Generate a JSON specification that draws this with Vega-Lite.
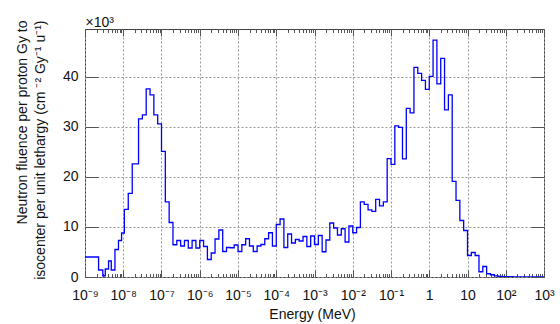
{
  "$schema": "https://vega.github.io/schema/vega-lite/v6.json",
  "width": 459,
  "height": 248,
  "autosize": {"type": "none"},
  "padding": {"left": 85, "top": 29, "right": 16, "bottom": 47},
  "background": "white",
  "data": {"values": [
    {"e": 1e-9, "v": 4000}, {"e": 2.265e-9, "v": 1400}, {"e": 2.917e-9, "v": 250}, {"e": 3.388e-9, "v": 1600},
    {"e": 4.13e-9, "v": 3200}, {"e": 4.864e-9, "v": 1400}, {"e": 6.067e-9, "v": 5500}, {"e": 7.499e-9, "v": 7300},
    {"e": 9.036e-9, "v": 8800}, {"e": 1.069e-8, "v": 13500}, {"e": 1.352e-8, "v": 16700}, {"e": 1.718e-8, "v": 22600},
    {"e": 2.512e-8, "v": 31600}, {"e": 3.162e-8, "v": 32400}, {"e": 3.981e-8, "v": 37600}, {"e": 5.012e-8, "v": 36400},
    {"e": 6.31e-8, "v": 32400}, {"e": 7.943e-8, "v": 30600},
    {"e": 1e-7, "v": 25100}, {"e": 1.259e-7, "v": 15000}, {"e": 1.585e-7, "v": 10900}, {"e": 1.995e-7, "v": 6450},
    {"e": 2.512e-7, "v": 7300}, {"e": 3.162e-7, "v": 6200}, {"e": 3.981e-7, "v": 7300}, {"e": 5.012e-7, "v": 5800},
    {"e": 6.31e-7, "v": 7300}, {"e": 7.943e-7, "v": 5800},
    {"e": 1e-6, "v": 7300}, {"e": 1.259e-6, "v": 6100}, {"e": 1.585e-6, "v": 3500}, {"e": 1.995e-6, "v": 4800},
    {"e": 2.512e-6, "v": 7600}, {"e": 3.162e-6, "v": 9400}, {"e": 3.981e-6, "v": 5100}, {"e": 5.012e-6, "v": 5900},
    {"e": 6.31e-6, "v": 5850}, {"e": 7.943e-6, "v": 6400},
    {"e": 1e-5, "v": 5100}, {"e": 1.259e-5, "v": 6450}, {"e": 1.585e-5, "v": 7650}, {"e": 1.995e-5, "v": 6200},
    {"e": 2.512e-5, "v": 5100}, {"e": 3.162e-5, "v": 6200}, {"e": 3.981e-5, "v": 6500}, {"e": 5.012e-5, "v": 7650},
    {"e": 6.31e-5, "v": 8850}, {"e": 7.943e-5, "v": 6200},
    {"e": 1e-4, "v": 10500}, {"e": 1.259e-4, "v": 11600}, {"e": 1.585e-4, "v": 5900}, {"e": 1.995e-4, "v": 8600},
    {"e": 2.512e-4, "v": 6800}, {"e": 3.162e-4, "v": 7500}, {"e": 3.981e-4, "v": 7200}, {"e": 5.012e-4, "v": 8100},
    {"e": 6.31e-4, "v": 6100}, {"e": 7.943e-4, "v": 8200},
    {"e": 1e-3, "v": 6500}, {"e": 1.259e-3, "v": 8300}, {"e": 1.585e-3, "v": 5050}, {"e": 1.995e-3, "v": 7400},
    {"e": 2.512e-3, "v": 10800}, {"e": 3.162e-3, "v": 9800}, {"e": 3.981e-3, "v": 8400}, {"e": 5.012e-3, "v": 9650},
    {"e": 6.31e-3, "v": 7000}, {"e": 7.943e-3, "v": 10200},
    {"e": 1e-2, "v": 8850}, {"e": 1.259e-2, "v": 9900}, {"e": 1.585e-2, "v": 15000}, {"e": 1.995e-2, "v": 14500},
    {"e": 2.512e-2, "v": 13400}, {"e": 3.162e-2, "v": 13100}, {"e": 3.981e-2, "v": 15500}, {"e": 5.012e-2, "v": 14200},
    {"e": 6.31e-2, "v": 15000}, {"e": 7.943e-2, "v": 23650},
    {"e": 0.1, "v": 22500}, {"e": 0.1259, "v": 30200}, {"e": 0.1585, "v": 29900}, {"e": 0.1995, "v": 23600},
    {"e": 0.2512, "v": 33700}, {"e": 0.3162, "v": 32800}, {"e": 0.3981, "v": 41900}, {"e": 0.5012, "v": 40700},
    {"e": 0.631, "v": 39300}, {"e": 0.7943, "v": 37500},
    {"e": 1, "v": 40100}, {"e": 1.259, "v": 47350}, {"e": 1.585, "v": 38600}, {"e": 1.995, "v": 43700},
    {"e": 2.512, "v": 33400}, {"e": 3.162, "v": 36400}, {"e": 3.981, "v": 19100}, {"e": 5.012, "v": 15300},
    {"e": 6.31, "v": 11300}, {"e": 7.943, "v": 9300},
    {"e": 10, "v": 4300}, {"e": 12.59, "v": 4900}, {"e": 15.85, "v": 4300}, {"e": 19.95, "v": 1050},
    {"e": 25.12, "v": 2100}, {"e": 31.62, "v": 650}, {"e": 39.81, "v": 450}, {"e": 50.12, "v": 220},
    {"e": 63.1, "v": 100}, {"e": 79.43, "v": 80},
    {"e": 100, "v": 60}, {"e": 125.9, "v": 50}, {"e": 158.5, "v": 40}, {"e": 199.5, "v": 35},
    {"e": 251.2, "v": 30}, {"e": 316.2, "v": 25}, {"e": 398.1, "v": 20}, {"e": 501.2, "v": 15},
    {"e": 631, "v": 12}, {"e": 794.3, "v": 10},
    {"e": 1000, "v": 10}
  ]},
  "layer": [
    {
      "mark": {"type": "line", "interpolate": "step-after", "color": "#0000ff", "strokeWidth": 1.3, "clip": true},
      "encoding": {
        "x": {"field": "e", "type": "quantitative",
          "scale": {"type": "log", "domain": [1e-9, 1000], "nice": false},
          "axis": {"orient": "bottom", "values": [1e-9, 1e-8, 1e-7, 1e-6, 1e-5, 1e-4, 1e-3, 1e-2, 1e-1, 1, 10, 100, 1000],
            "labelExpr": "['10⁻⁹','10⁻⁸','10⁻⁷','10⁻⁶','10⁻⁵','10⁻⁴','10⁻³','10⁻²','10⁻¹','1','10','10²','10³'][round(log(datum.value)/LN10)+9]",
            "tickSize": -7, "labelPadding": 18, "grid": true,
            "title": "Energy (MeV)", "titleX": 227, "titleY": 41, "titleAlign": "center", "titleBaseline": "alphabetic"}},
        "y": {"field": "v", "type": "quantitative",
          "scale": {"domain": [0, 49580], "nice": false, "zero": true},
          "axis": {"orient": "left", "values": [0, 10000, 20000, 30000, 40000], "labelExpr": "format(datum.value/1000, 'd')",
            "tickSize": -13, "labelPadding": 20, "grid": true,
            "title": ["Neutron fluence per proton Gy to", "isocenter per unit lethargy (cm ⁻² Gy⁻¹ u⁻¹)"],
            "titleX": -70, "titleY": -9, "titleAngle": -90, "titleAlign": "right", "titleBaseline": "top", "titleLineHeight": 18}}
      }
    },
    {
      "mark": {"type": "line", "interpolate": "step-after", "opacity": 0},
      "encoding": {
        "x": {"field": "e", "type": "quantitative",
          "axis": {"orient": "bottom", "tickCount": 150, "tickSize": -3.5, "labels": false, "grid": false, "title": null}},
        "y": {"field": "v", "type": "quantitative",
          "axis": {"orient": "right", "values": [0, 10000, 20000, 30000, 40000], "tickSize": -13, "labels": false, "grid": false, "title": null}}
      }
    },
    {
      "mark": {"type": "line", "interpolate": "step-after", "opacity": 0},
      "encoding": {
        "x": {"field": "e", "type": "quantitative",
          "axis": {"orient": "top", "values": [1e-9, 1e-8, 1e-7, 1e-6, 1e-5, 1e-4, 1e-3, 1e-2, 1e-1, 1, 10, 100, 1000], "tickSize": -7, "labels": false, "grid": false,
            "title": "×10³", "titleX": 0, "titleY": -3, "titleAlign": "left", "titleBaseline": "alphabetic", "titleAngle": 0}},
        "y": {"field": "v", "type": "quantitative", "axis": null}
      }
    },
    {
      "mark": {"type": "line", "interpolate": "step-after", "opacity": 0},
      "encoding": {
        "x": {"field": "e", "type": "quantitative",
          "axis": {"orient": "top", "tickCount": 150, "tickSize": -3.5, "labels": false, "grid": false, "title": null}},
        "y": {"field": "v", "type": "quantitative", "axis": null}
      }
    }
  ],
  "resolve": {"axis": {"x": "independent", "y": "independent"}},
  "config": {
    "view": {"stroke": "#444", "strokeWidth": 1},
    "axis": {
      "domain": false, "tickColor": "#555", "tickWidth": 1,
      "gridColor": "#999", "gridDash": [2, 2], "gridWidth": 1, "gridOpacity": 1,
      "labelFont": "Liberation Sans", "labelFontSize": 14, "labelColor": "#111",
      "labelFlush": false, "labelOverlap": false, "labelBound": false,
      "titleFont": "Liberation Sans", "titleFontSize": 14, "titleFontWeight": "normal", "titleColor": "#111"
    }
  }
}
